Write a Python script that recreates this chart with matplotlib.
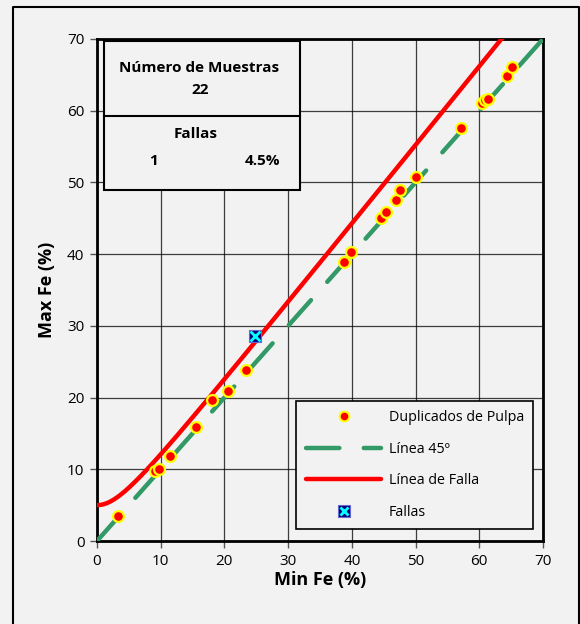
import numpy as np
import matplotlib.pyplot as plt
from matplotlib.patches import Rectangle
from matplotlib.lines import Line2D

plt.rcParams['font.family'] = ['Open Sans', 'DejaVu Sans']

# duplicados de pulpa: (min, max) de cada par
min_fe = [3.3, 9.1, 9.7, 11.5, 15.5, 18.0, 20.6, 23.4, 38.7, 39.9, 44.6,
          45.3, 46.9, 47.6, 50.1, 57.2, 60.4, 60.9, 61.4, 64.4, 65.2]
max_fe = [3.5, 9.7, 10.0, 11.8, 15.9, 19.6, 20.9, 23.9, 38.9, 40.3, 45.0,
          45.9, 47.5, 49.0, 50.7, 57.6, 61.1, 61.5, 61.7, 64.8, 66.1]

# pares que fallan
fail_min = [24.8]
fail_max = [28.6]

n_muestras = 22
n_fallas = 1
pct_fallas = "4.5%"

# linea de falla: hiperbola con error relativo 10% y limite 5
lim_abs = 5.0
err_rel = 1.1

bg = '#f2f2f2'
fig = plt.figure(figsize=(5.8, 6.24), dpi=100, facecolor=bg)
ax = fig.add_axes([0.1672, 0.1330, 0.7690, 0.8045])
ax.set_facecolor(bg)

# marco exterior (izquierda, arriba, derecha)
fx0, fx1, fy1 = 12.5 / 580, 578.5 / 580, 1 - 6.5 / 624
fig.add_artist(Line2D([fx0, fx0, fx1, fx1], [0, fy1, fy1, 0],
                      transform=fig.transFigure, color='black', lw=1.5))

xs = np.linspace(0, 70, 400)
ax.plot([0, 70], [0, 70], color='#339966', lw=3.2, dashes=(7.5, 5.5),
        dash_capstyle='round', solid_capstyle='round', zorder=3)
ax.plot(xs, np.sqrt(lim_abs ** 2 + (err_rel * xs) ** 2), color='#ff0000',
        lw=3.2, solid_capstyle='round', zorder=3)
ax.plot(min_fe, max_fe, 'o', color='#ff0000', mec='#ffff00', ms=7.8,
        mew=1.6, zorder=4)
ax.plot(fail_min, fail_max, 's', color='#000080', mec='#6666cc', ms=9,
        mew=0.8, zorder=5)
ax.plot(fail_min, fail_max, 'x', color='#00ffff', ms=7, mew=2, zorder=6)

ax.set_xlim(0, 70)
ax.set_ylim(0, 70)
ax.set_xticks(range(0, 71, 10))
ax.set_yticks(range(0, 71, 10))
ax.grid(True, color='black', lw=0.9, alpha=0.75)
ax.set_axisbelow(True)
for s in ax.spines.values():
    s.set_linewidth(2)
ax.tick_params(direction='out', length=5, width=1, labelsize=11,
               color='#555555', pad=4)
ax.set_xlabel('Min Fe (%)', fontsize=13, fontweight='bold', labelpad=2)
ax.set_ylabel('Max Fe (%)', fontsize=13, fontweight='bold', labelpad=8)

# cuadro de resumen
x0, x1 = (104 - 97) / 446, (300 - 97) / 446
y_top, y_mid, y_bot = (541 - 41) / 502, (541 - 116) / 502, (541 - 190) / 502
ax.add_patch(Rectangle((x0, y_bot), x1 - x0, y_top - y_bot,
                       transform=ax.transAxes, facecolor=bg,
                       edgecolor='black', lw=1.5, zorder=7))
ax.plot([x0, x1], [y_mid, y_mid], transform=ax.transAxes, color='black',
        lw=1.5, zorder=8)
tk = dict(transform=ax.transAxes, fontsize=11, fontweight='bold',
          ha='center', va='center', zorder=9)
ax.text((199 - 97) / 446, (541 - 68) / 502, 'Número de Muestras', **tk)
ax.text((200 - 97) / 446, (541 - 90) / 502, str(n_muestras), **tk)
ax.text((196 - 97) / 446, (541 - 134) / 502, 'Fallas', **tk)
ax.text((154 - 97) / 446, (541 - 161) / 502, str(n_fallas), **tk)
ax.text((263 - 97) / 446, (541 - 161) / 502, pct_fallas, **tk)

# leyenda
h_pts = Line2D([], [], ls='none', marker='o', color='#ff0000',
               mec='#ffff00', ms=7, mew=1.5)
h_45 = Line2D([], [], color='#339966', lw=3.2, dashes=(7.5, 5.5),
              dash_capstyle='round')
h_falla = Line2D([], [], color='#ff0000', lw=3.2, solid_capstyle='round')
h_sq = Line2D([], [], ls='none', marker='s', color='#000080', ms=8,
              mec='#6666cc', mew=0.8)
h_x = Line2D([], [], ls='none', marker='x', color='#00ffff', ms=6, mew=2)
leg = ax.legend([h_pts, h_45, h_falla, (h_sq, h_x)],
                ['Duplicados de Pulpa', 'Línea 45º', 'Línea de Falla',
                 'Fallas'],
                loc='lower right', bbox_to_anchor=(0.978, 0.024),
                fontsize=10.3, frameon=True, fancybox=False,
                edgecolor='black', facecolor=bg, framealpha=1,
                handlelength=5.3, handletextpad=0.5, labelspacing=1.15,
                borderpad=0.65, borderaxespad=0)
leg.get_frame().set_linewidth(1.2)
leg.set_zorder(10)

fig.savefig('out.png', dpi=100, facecolor=bg)
